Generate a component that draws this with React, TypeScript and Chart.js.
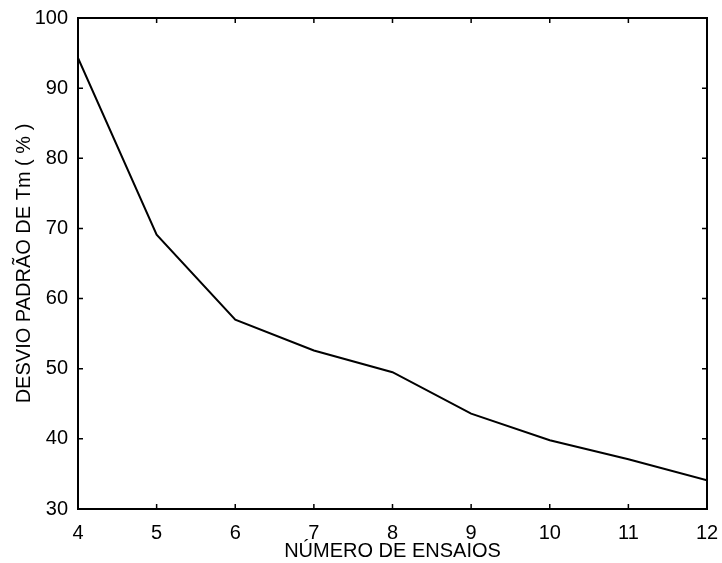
import React, { useEffect, useRef } from "react";
import { Chart, registerables } from "chart.js";

Chart.register(...registerables);

const ensaios = [4, 5, 6, 7, 8, 9, 10, 11, 12];
const desvio = [94.3, 69.1, 57.0, 52.6, 49.5, 43.6, 39.8, 37.1, 34.1];
const yTicks = [30, 40, 50, 60, 70, 80, 90, 100];
const xTitle = "NÚMERO DE ENSAIOS";
const yTitle = "DESVIO PADRÃO DE Tm ( % )";

const FONT = "Arial, 'Liberation Sans', Helvetica, sans-serif";

const framePlugin = {
  id: "frame",
  afterDraw(chart: any) {
    const { ctx, chartArea } = chart;
    const { left, right, top, bottom } = chartArea;
    const xs = chart.scales.x;
    const ys = chart.scales.y;
    const len = 5;
    ctx.save();
    ctx.strokeStyle = "#000";
    ctx.lineWidth = 2;
    ctx.strokeRect(left, top, right - left, bottom - top);
    ctx.lineWidth = 1.5;
    ctx.beginPath();
    xs.ticks.forEach((t: any) => {
      const px = xs.getPixelForValue(t.value);
      ctx.moveTo(px, bottom);
      ctx.lineTo(px, bottom - len);
      ctx.moveTo(px, top);
      ctx.lineTo(px, top + len);
    });
    ys.ticks.forEach((t: any) => {
      const py = ys.getPixelForValue(t.value);
      ctx.moveTo(left, py);
      ctx.lineTo(left + len, py);
      ctx.moveTo(right, py);
      ctx.lineTo(right - len, py);
    });
    ctx.stroke();
    ctx.restore();
  },
};

export default function App() {
  const ref = useRef<HTMLCanvasElement>(null);
  useEffect(() => {
    if (!ref.current) return;
    const chart = new Chart(ref.current, {
      type: "line",
      data: {
        datasets: [
          {
            data: ensaios.map((x, i) => ({ x, y: desvio[i] })),
            borderColor: "#000",
            borderWidth: 2,
            pointRadius: 0,
            tension: 0,
            fill: false,
          },
        ],
      },
      options: {
        animation: false,
        responsive: false,
        maintainAspectRatio: false,
        layout: { padding: { top: 18, right: 15, left: 0, bottom: 0 } },
        plugins: { legend: { display: false }, tooltip: { enabled: false } },
        scales: {
          x: {
            type: "linear",
            min: 4,
            max: 12,
            grid: { display: false, drawTicks: false },
            border: { display: false },
            ticks: {
              stepSize: 1,
              color: "#000",
              padding: 12,
              maxRotation: 0,
              font: { family: FONT, size: 20 },
            },
            title: {
              display: true,
              text: xTitle,
              color: "#000",
              padding: { top: 0, bottom: 0 },
              font: { family: FONT, size: 20, lineHeight: 1.2 },
            },
            afterFit: (s: any) => {
              s.height = 54;
              s.paddingLeft = 0;
              s.paddingRight = 0;
            },
          },
          y: {
            type: "linear",
            min: 30,
            max: 100,
            grid: { display: false, drawTicks: false },
            border: { display: false },
            afterBuildTicks: (s: any) => {
              s.ticks = yTicks.map((v) => ({ value: v }));
            },
            ticks: {
              color: "#000",
              padding: 10,
              font: { family: FONT, size: 20 },
            },
            title: {
              display: true,
              text: yTitle,
              color: "#000",
              padding: { top: 12, bottom: 0 },
              font: { family: FONT, size: 20, lineHeight: 1.2 },
            },
            afterFit: (s: any) => {
              s.width = 78;
              s.paddingTop = 0;
              s.paddingBottom = 0;
            },
          },
        },
      },
      plugins: [framePlugin],
    });
    return () => chart.destroy();
  }, []);
  return (
    <div style={{ position: "fixed", left: 0, top: 0, width: 722, height: 563, background: "#fff" }}>
      <canvas ref={ref} width={722} height={563} style={{ width: 722, height: 563 }} />
    </div>
  );
}
